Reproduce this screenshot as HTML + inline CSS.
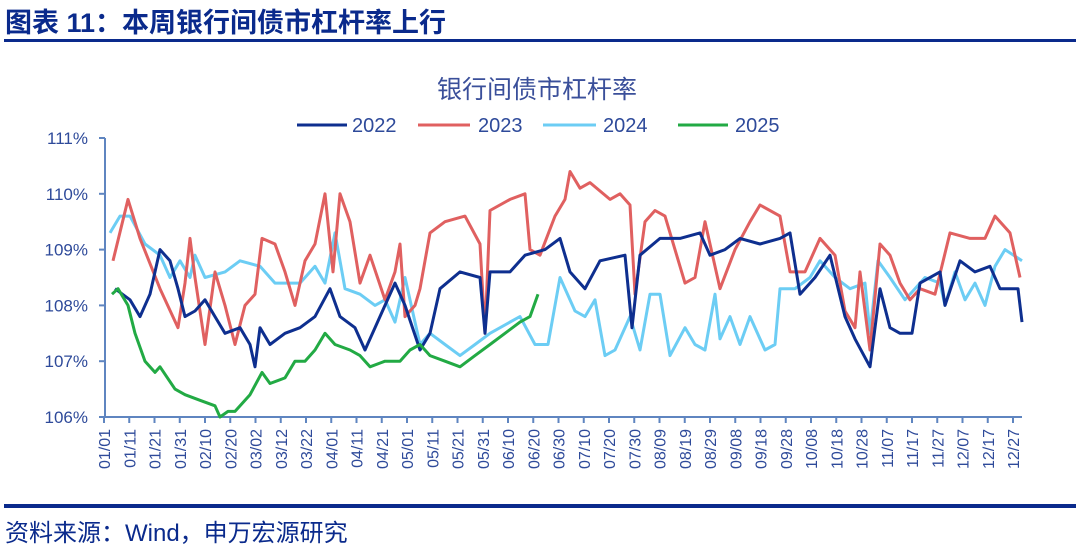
<!DOCTYPE html><html><head><meta charset="utf-8"><style>
body{margin:0;width:1080px;height:550px;background:#fff;overflow:hidden;font-family:"Liberation Sans","Noto Sans CJK SC",sans-serif}
</style></head><body>
<svg id="s" width="1080" height="550" xmlns="http://www.w3.org/2000/svg" style="position:absolute;left:0;top:0">
<text x="5" y="32" font-size="27" font-weight="bold" fill="#0a2a8c" font-family="Liberation Sans,Noto Sans CJK SC,sans-serif">图表 11：本周银行间债市杠杆率上行</text>
<rect x="4" y="39" width="1072" height="3" fill="#0a2a8c"/>
<text x="537" y="98" font-size="25" fill="#3a4f9a" text-anchor="middle" font-family="Liberation Sans,Noto Sans CJK SC,sans-serif">银行间债市杠杆率</text>
<g font-size="20" fill="#2e4a9a">
<line x1="297" y1="125" x2="347" y2="125" stroke="#0e2f8f" stroke-width="3"/><text x="352" y="132">2022</text>
<line x1="418" y1="125" x2="470" y2="125" stroke="#e06060" stroke-width="3"/><text x="478" y="132">2023</text>
<line x1="543" y1="125" x2="596" y2="125" stroke="#6ccdf4" stroke-width="3"/><text x="603" y="132">2024</text>
<line x1="678" y1="125" x2="728" y2="125" stroke="#22aa44" stroke-width="3"/><text x="735" y="132">2025</text>
</g>
<g id="ax" stroke="#5f85c0" stroke-width="2" fill="none"></g>
<g id="lab" font-size="17" fill="#2e4a9a"></g>
<g id="ser" fill="none" stroke-width="3" stroke-linejoin="round"></g>
<rect x="4" y="504" width="1072" height="4" fill="#0a2a8c"/>
<text x="5" y="541" font-size="24" fill="#0a2a8c" font-family="Liberation Sans,Noto Sans CJK SC,sans-serif">资料来源：Wind，申万宏源研究</text>
</svg>
<script>
var NS="http://www.w3.org/2000/svg";
function el(p,t,a,txt){var e=document.createElementNS(NS,t);for(var k in a)e.setAttribute(k,a[k]);if(txt)e.textContent=txt;document.getElementById(p).appendChild(e);return e;}
function Y(v){return 138+(111-v)*55.8;}
el("ax","line",{x1:105,y1:138,x2:105,y2:417});
el("ax","line",{x1:105,y1:417,x2:1022,y2:417});
for(var v=106;v<=111;v++){el("ax","line",{x1:99,y1:Y(v),x2:105,y2:Y(v)});el("lab","text",{x:88,y:Y(v)+6,"text-anchor":"end"},v+"%");}
var labs=["01/01","01/11","01/21","01/31","02/10","02/20","03/02","03/12","03/22","04/01","04/11","04/21","05/01","05/11","05/21","05/31","06/10","06/20","06/30","07/10","07/20","07/30","08/09","08/19","08/29","09/08","09/18","09/28","10/08","10/18","10/28","11/07","11/17","11/27","12/07","12/17","12/27"];
for(var i=0;i<labs.length;i++){var x=104+i*25.25;el("ax","line",{x1:x,y1:417,x2:x,y2:423});el("lab","text",{transform:"translate("+(x+6)+",429) rotate(-90)","text-anchor":"end","font-size":"16"},labs[i]);}
function S(c,d){var p=[];for(var i=0;i<d.length;i+=2)p.push(d[i]+","+Y(d[i+1]).toFixed(1));el("ser","polyline",{points:p.join(" "),stroke:c});}
S("#6ccdf4",[110,109.3,120,109.6,130,109.6,145,109.1,160,108.9,170,108.5,180,108.8,190,108.5,195,108.9,205,108.5,225,108.6,240,108.8,260,108.7,275,108.4,300,108.4,315,108.7,325,108.4,335,109.3,345,108.3,360,108.2,375,108.0,385,108.1,395,107.7,405,108.5,420,107.3,430,107.5,445,107.3,460,107.1,475,107.3,490,107.5,510,107.7,520,107.8,535,107.3,548,107.3,560,108.5,575,107.9,585,107.8,595,108.1,605,107.1,615,107.2,630,107.8,640,107.2,650,108.2,660,108.2,670,107.1,685,107.6,695,107.3,705,107.2,715,108.2,720,107.4,730,107.8,740,107.3,750,107.8,765,107.2,775,107.3,780,108.3,795,108.3,810,108.5,820,108.8,835,108.5,850,108.3,865,108.4,870,107.5,878,108.8,890,108.5,905,108.1,915,108.3,925,108.5,940,108.4,945,108.0,955,108.6,965,108.1,975,108.4,985,108.0,995,108.7,1005,109.0,1022,108.8]);
S("#e06060",[113,108.8,128,109.9,140,109.2,160,108.3,178,107.6,185,108.4,190,109.2,195,108.5,205,107.3,215,108.6,225,108.0,235,107.3,245,108.0,255,108.2,262,109.2,275,109.1,285,108.6,295,108.0,305,108.8,315,109.1,325,110.0,333,108.6,340,110.0,350,109.5,360,108.4,370,108.9,385,108.1,395,108.6,400,109.1,405,107.8,415,108.0,420,108.3,430,109.3,445,109.5,465,109.6,480,109.1,485,107.5,490,109.7,510,109.9,525,110.0,530,109.0,540,108.9,555,109.6,565,109.9,570,110.4,580,110.1,590,110.2,610,109.9,620,110.0,630,109.8,635,108.2,645,109.5,655,109.7,665,109.6,685,108.4,695,108.5,705,109.5,715,108.7,720,108.3,735,109.0,750,109.5,760,109.8,780,109.6,790,108.6,805,108.6,820,109.2,835,108.9,845,107.9,855,107.6,860,108.6,870,107.2,880,109.1,890,108.9,900,108.4,910,108.1,920,108.3,935,108.2,950,109.3,970,109.2,985,109.2,995,109.6,1010,109.3,1020,108.5]);
S("#0e2f8f",[115,108.3,130,108.1,140,107.8,150,108.2,160,109.0,170,108.8,178,108.3,185,107.8,195,107.9,205,108.1,215,107.8,225,107.5,240,107.6,250,107.3,255,106.9,260,107.6,270,107.3,285,107.5,300,107.6,315,107.8,330,108.3,340,107.8,355,107.6,365,107.2,375,107.6,385,108.0,395,108.4,405,108.0,420,107.2,430,107.5,440,108.3,460,108.6,480,108.5,485,107.5,490,108.6,510,108.6,525,108.9,545,109.0,560,109.2,570,108.6,585,108.3,600,108.8,625,108.9,632,107.6,640,108.9,660,109.2,680,109.2,700,109.3,710,108.9,725,109.0,740,109.2,760,109.1,780,109.2,790,109.3,800,108.2,815,108.5,830,108.9,845,107.8,855,107.4,870,106.9,880,108.3,890,107.6,900,107.5,912,107.5,920,108.4,940,108.6,945,108.0,960,108.8,975,108.6,990,108.7,1000,108.3,1018,108.3,1022,107.7]);
S("#22aa44",[112,108.2,118,108.3,128,108.0,135,107.5,145,107.0,155,106.8,160,106.9,175,106.5,185,106.4,200,106.3,215,106.2,220,106.0,228,106.1,235,106.1,250,106.4,262,106.8,270,106.6,285,106.7,295,107.0,305,107.0,315,107.2,325,107.5,335,107.3,350,107.2,360,107.1,370,106.9,385,107.0,400,107.0,410,107.2,420,107.3,430,107.1,445,107.0,460,106.9,475,107.1,490,107.3,505,107.5,520,107.7,530,107.8,538,108.2]);
</script>
</body></html>
